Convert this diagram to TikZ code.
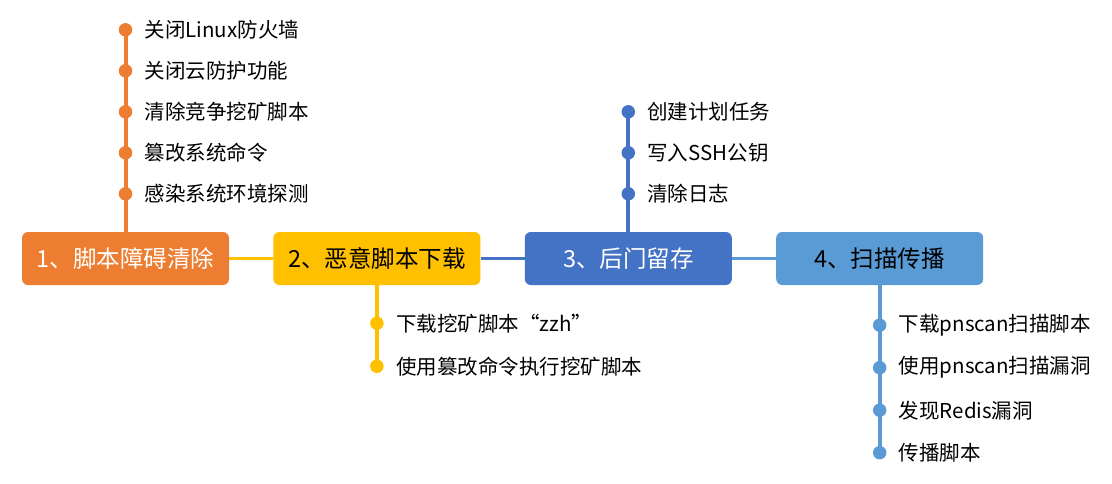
\documentclass[tikz,border=0pt]{standalone}
\usepackage{fontspec}
\newfontfamily\cjk{Noto Sans CJK SC}
\usetikzlibrary{positioning,calc}
\definecolor{clean}{RGB}{237,125,49}
\definecolor{fetch}{RGB}{255,192,0}
\definecolor{stay}{RGB}{68,114,196}
\definecolor{spread}{RGB}{91,155,213}
\tikzset{
  stage/.style={rounded corners=6pt, align=center, inner sep=0pt,
                minimum width=207pt, minimum height=53pt,
                font=\cjk\fontsize{23.5}{26}\selectfont},
  link/.style={line width=3.5pt},
  stem/.style={line width=4pt},
  dot/.style={circle, inner sep=0pt, minimum size=13.5pt},
  item/.style={inner sep=0pt, anchor=west, font=\cjk\fontsize{20.5}{24}\selectfont},
}
\begin{document}
\begin{tikzpicture}[x=1pt,y=1pt]
  \useasboundingbox (0,0) rectangle (1112,483);

  % the four stages
  \node[stage, fill=clean, text=white] (s1) at (125.5,224.5) {1、脚本障碍清除};
  \node[stage, fill=fetch, right=44pt of s1] (s2) {2、恶意脚本下载};
  \node[stage, fill=stay, text=white, right=44pt of s2] (s3) {3、后门留存};
  \node[stage, fill=spread, right=44pt of s3] (s4) {4、扫描传播};

  % steps of stage 1 (above)
  \draw[stem, clean] (s1.north) -- ($(s1.north)+(0,202)$);
  \foreach \t [count=\i] in {关闭Linux防火墙,关闭云防护功能,清除竞争挖矿脚本,篡改系统命令,感染系统环境探测} {
    \node[dot, fill=clean] (a\i) at ($(s1.north)+(0,{38+41*(5-\i)})$) {};
    \node[item, right=12pt of a\i] (ta\i) {\t};
  }

  % steps of stage 2 (below)
  \draw[stem, fetch] (s2.south) -- ($(s2.south)+(0,-81)$);
  \foreach \t [count=\i] in {下载挖矿脚本“zzh”,使用篡改命令执行挖矿脚本} {
    \node[dot, fill=fetch] (b\i) at ($(s2.south)+(0,{-38-43*(\i-1)})$) {};
    \node[item, right=12pt of b\i] (tb\i) {\t};
  }

  % steps of stage 3 (above)
  \draw[stem, stay] (s3.north) -- ($(s3.north)+(0,120)$);
  \foreach \t [count=\i] in {创建计划任务,写入SSH公钥,清除日志} {
    \node[dot, fill=stay] (c\i) at ($(s3.north)+(0,{38+41*(3-\i)})$) {};
    \node[item, right=12pt of c\i] (tc\i) {\t};
  }

  % steps of stage 4 (below)
  \draw[stem, spread] (s4.south) -- ($(s4.south)+(0,-167.5)$);
  \foreach \t [count=\i] in {下载pnscan扫描脚本,使用pnscan扫描漏洞,发现Redis漏洞,传播脚本} {
    \node[dot, fill=spread] (d\i) at ($(s4.south)+(0,{-40-42.5*(\i-1)})$) {};
    \node[item, right=12pt of d\i] (td\i) {\t};
  }

  % links between stages
  \draw[link, fetch] (s1) -- (s2);
  \draw[link, stay] (s2) -- (s3);
  \draw[link, spread] (s3) -- (s4);
\end{tikzpicture}
\end{document}
